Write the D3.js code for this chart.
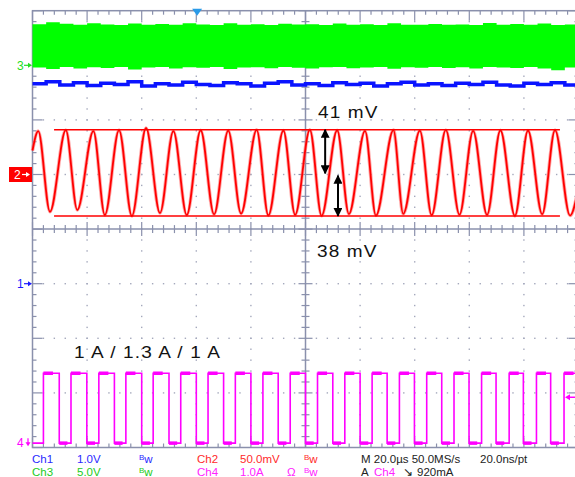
<!DOCTYPE html>
<html>
<head>
<meta charset="utf-8">
<script src="https://cdn.jsdelivr.net/npm/d3@7"></script>
<style>
  body { margin: 0; background: #fff; }
  svg { display: block; font-family: "Liberation Sans", Arial, sans-serif; }
</style>
</head>
<body>
<svg id="scope" width="575" height="477"></svg>
<script>
// ---- data (time in µs) ----
// channel vertical positions (div) and scale per div
const chPos = {ch1: -1, ch2: 1, ch3: 3, ch4: -4};
const chPerDiv = {ch1: 1.0, ch2: 50, ch3: 5.0, ch4: 1.0};

// Ch3 switch node: noisy band, envelope every 5 µs (V)
const greenT  = [0, 5, 10, 15, 20, 25, 30, 35, 40, 45, 50, 55, 60, 65, 70, 75, 80, 85, 90, 95, 100,
                 105, 110, 115, 120, 125, 130, 135, 140, 145, 150, 155, 160, 165, 170, 175, 180, 185, 190, 195, 200];
const greenHi = [3.75, 3.95, 3.8, 3.72, 3.85, 3.74, 3.7, 3.82, 3.72, 3.78, 3.71, 3.84, 3.73, 3.7, 3.86, 3.72, 3.76, 3.7, 3.8, 3.73, 3.76,
                 3.7, 3.83, 3.72, 3.75, 3.7, 3.85, 3.72, 3.71, 3.79, 3.72, 3.74, 3.7, 3.88, 3.72, 3.78, 3.71, 3.82, 3.7, 3.74, 3.72];
const greenLo = [-0.2, -0.35, -0.15, -0.3, -0.18, -0.25, -0.15, -0.38, -0.2, -0.15, -0.3, -0.18, -0.22, -0.15, -0.33, -0.2, -0.18, -0.28, -0.15, -0.22, -0.3,
                 -0.18, -0.15, -0.26, -0.2, -0.15, -0.32, -0.18, -0.22, -0.15, -0.25, -0.18, -0.3, -0.15, -0.2, -0.24, -0.16, -0.3, -0.45, -0.2, -0.25];

// Ch1 output rail (V)
const blueT = greenT;
const blueV = [3.66, 3.7, 3.64, 3.68, 3.63, 3.67, 3.65, 3.7, 3.62, 3.66, 3.64, 3.69, 3.65, 3.63, 3.68, 3.66, 3.62, 3.67, 3.7, 3.64, 3.66,
               3.63, 3.68, 3.65, 3.67, 3.62, 3.66, 3.69, 3.64, 3.66, 3.63, 3.67, 3.65, 3.69, 3.64, 3.62, 3.67, 3.65, 3.68, 3.64, 3.66];

// Ch2 ripple (mV): start, alternating peaks / troughs, end
const ripplePeakT = [2.1, 12.2, 22.3, 31.7, 41.6, 51.6, 61.6, 71.7, 82.1, 91.9, 101.6, 111.6, 121.8, 132.2, 141.9, 151.4, 161.4, 171.4, 181.5, 191.4];
const ripplePeakV = [39.8, 40.7, 39.8, 40.7, 42.6, 39.8, 40.5, 40.2, 40.9, 40.3, 41.0, 40.5, 39.9, 40.6, 40.2, 40.8, 40.0, 40.5, 40.3, 40.7];
const rippleTrT   = [6.4, 16.4, 26.5, 36.4, 46.7, 56.5, 66.5, 76.4, 86.4, 96.2, 105.9, 115.9, 125.8, 135.8, 146.2, 156.4, 166.5, 176.7, 186.7, 196.9];
const rippleTrV   = [-34.1, -32.5, -37.1, -38.0, -35.3, -37.1, -36.5, -35.8, -37.5, -36.9, -37.8, -36.2, -37.6, -36.0, -37.3, -36.8, -37.0, -37.9, -36.4, -37.6];
const rippleStart = [0, 22];
const rippleEnd   = [200, -12];

// Ch4 inductor current (A)
const riseT = [4.0, 14.1, 24.3, 34.2, 44.2, 54.3, 64.3, 74.3, 84.4, 94.4, 104.4, 114.4, 124.4, 134.4, 144.4, 154.4, 164.5, 174.6, 184.6, 194.7];
const fallT = [9.8, 19.9, 30.0, 40.0, 50.0, 60.0, 70.0, 80.0, 90.0, 100.0, 110.0, 120.0, 129.9, 139.9, 149.9, 159.9, 169.8, 179.8, 189.8, 199.8];
const currHigh = 1.36;
const currLow = 0.08;

// cursors / annotations
const cursorMv = [41, -38];
const cursorSpan = [7.9, 193.2];
const arrowsMv = [{t: 107.2, from: 41, to: 1}, {t: 111.9, from: -1, to: -38}];
const triggerPos = 60.3;
const triggerLevel = 0.92;

(() => {
    // ---- scales ----
    const svg = d3.select("svg#scope");
    const pL = 32.5, pR = 578.5, pT = 10.7, pB = 447.5;
    const x = d3.scaleLinear().domain([0, 200]).range([pL, pR]);
    const yDiv = d3.scaleLinear().domain([-4, 4]).range([pB, pT]);
    const chScale = ch => d3.scaleLinear()
        .domain([(-4 - chPos[ch]) * chPerDiv[ch], (4 - chPos[ch]) * chPerDiv[ch]])
        .range([pB, pT]);
    const y1 = chScale("ch1"), y2 = chScale("ch2"), y3 = chScale("ch3"), y4 = chScale("ch4");

    const gridCol = "#8a90ac";

    // ---- graticule ----
    const grid = svg.append("g");
    const minorT = d3.range(0, 200.01, 4);
    const minorD = d3.range(-4, 4.01, 0.2);

    // dots on major lines
    [20, 40, 60, 80, 120, 140, 160, 180].forEach(t => {
        grid.selectAll(null).data(minorD.slice(1, -1)).enter().append("rect")
            .attr("x", x(t) - 0.7).attr("y", d => yDiv(d) - 0.7)
            .attr("width", 1.4).attr("height", 1.4).attr("fill", "#a4a8bc");
    });
    [-3, -2, -1, 1, 2, 3].forEach(dv => {
        grid.selectAll(null).data(minorT.slice(1, -1)).enter().append("rect")
            .attr("x", d => x(d) - 0.7).attr("y", yDiv(dv) - 0.7)
            .attr("width", 1.4).attr("height", 1.4).attr("fill", "#a4a8bc");
    });

    // frame and centre lines
    grid.append("rect").attr("x", pL).attr("y", pT)
        .attr("width", pR - pL).attr("height", pB - pT)
        .attr("fill", "none").attr("stroke", gridCol).attr("stroke-width", 1.5);
    grid.append("line").attr("x1", x(100)).attr("x2", x(100)).attr("y1", pT).attr("y2", pB)
        .attr("stroke", gridCol).attr("stroke-width", 1.5);
    grid.append("line").attr("x1", pL).attr("x2", pR).attr("y1", yDiv(0)).attr("y2", yDiv(0))
        .attr("stroke", gridCol).attr("stroke-width", 1.5);

    const isMajorT = t => Math.abs(t / 20 - Math.round(t / 20)) < 1e-6;
    const isMajorD = d => Math.abs(d - Math.round(d)) < 1e-6;

    // ticks along top/bottom frame and centre horizontal
    minorT.forEach(t => {
        const L = isMajorT(t) ? 10 : 4;
        grid.append("line").attr("x1", x(t)).attr("x2", x(t)).attr("y1", pT).attr("y2", pT + L)
            .attr("stroke", gridCol).attr("stroke-width", 1.2);
        grid.append("line").attr("x1", x(t)).attr("x2", x(t)).attr("y1", pB).attr("y2", pB - L)
            .attr("stroke", gridCol).attr("stroke-width", 1.2);
        const c = isMajorT(t) ? 7 : 4;
        grid.append("line").attr("x1", x(t)).attr("x2", x(t)).attr("y1", yDiv(0) - c).attr("y2", yDiv(0) + c)
            .attr("stroke", gridCol).attr("stroke-width", 1.2);
    });
    // ticks along left/right frame and centre vertical
    minorD.forEach(d => {
        const L = isMajorD(d) ? 10 : 4;
        grid.append("line").attr("x1", pL).attr("x2", pL + L).attr("y1", yDiv(d)).attr("y2", yDiv(d))
            .attr("stroke", gridCol).attr("stroke-width", 1.2);
        grid.append("line").attr("x1", pR).attr("x2", pR - L).attr("y1", yDiv(d)).attr("y2", yDiv(d))
            .attr("stroke", gridCol).attr("stroke-width", 1.2);
        const c = isMajorD(d) ? 7 : 4;
        grid.append("line").attr("x1", x(100) - c).attr("x2", x(100) + c).attr("y1", yDiv(d)).attr("y2", yDiv(d))
            .attr("stroke", gridCol).attr("stroke-width", 1.2);
    });

    // ---- traces ----
    const traces = svg.append("g");

    // Ch3 green band
    const greenData = greenT.map((t, i) => ({t, hi: greenHi[i], lo: greenLo[i]}));
    traces.append("path").datum(greenData)
        .attr("d", d3.area().x(d => x(d.t)).y0(d => y3(d.lo)).y1(d => y3(d.hi)).curve(d3.curveStepAfter))
        .attr("fill", "#00ff00");

    // Ch1 blue rail
    traces.append("path").datum(blueT.map((t, i) => [t, blueV[i]]))
        .attr("d", d3.line().x(d => x(d[0])).y(d => y1(d[1])).curve(d3.curveStepAfter))
        .attr("fill", "none").attr("stroke", "#0a14ff").attr("stroke-width", 3.5);

    // Ch2 ripple
    const ripple = [rippleStart];
    ripplePeakT.forEach((t, i) => {
        ripple.push([t, ripplePeakV[i]]);
        ripple.push([rippleTrT[i], rippleTrV[i]]);
    });
    ripple.push(rippleEnd);
    const rippleLine = d3.line().x(d => x(d[0])).y(d => y2(d[1])).curve(d3.curveMonotoneX);
    traces.append("path").datum(ripple).attr("d", rippleLine)
        .attr("fill", "none").attr("stroke", "#ff7070").attr("stroke-width", 3.6).attr("opacity", 0.6);
    traces.append("path").datum(ripple).attr("d", rippleLine)
        .attr("fill", "none").attr("stroke", "#ff0000").attr("stroke-width", 1.8);

    // Ch4 current pulses
    const pulse = [[0, currLow]];
    riseT.forEach((t, i) => {
        pulse.push([t, currHigh]);
        pulse.push([fallT[i], currLow]);
    });
    pulse.push([200, currLow]);
    traces.append("path").datum(pulse)
        .attr("d", d3.line().x(d => x(d[0])).y(d => y4(d[1])).curve(d3.curveStepAfter))
        .attr("fill", "none").attr("stroke", "#ff00ff").attr("stroke-width", 1.6);
    // thicker noisy tops / bottoms
    traces.selectAll(null).data(riseT).enter().append("line")
        .attr("x1", d => x(d)).attr("x2", d => x(d + 3.5))
        .attr("y1", y4(currHigh)).attr("y2", y4(currHigh))
        .attr("stroke", "#ff00ff").attr("stroke-width", 3.5);
    traces.selectAll(null).data(fallT).enter().append("line")
        .attr("x1", d => x(d)).attr("x2", d => x(Math.min(d + 3, 200)))
        .attr("y1", y4(currLow)).attr("y2", y4(currLow))
        .attr("stroke", "#ff00ff").attr("stroke-width", 3.5);

    // ---- cursors and annotations ----
    traces.selectAll(null).data(cursorMv).enter().append("line")
        .attr("x1", x(cursorSpan[0])).attr("x2", x(cursorSpan[1]))
        .attr("y1", d => y2(d)).attr("y2", d => y2(d))
        .attr("stroke", "#ff0000").attr("stroke-width", 1.5);

    const defs = svg.append("defs");
    defs.append("marker").attr("id", "ah").attr("viewBox", "0 0 10 10")
        .attr("refX", 9).attr("refY", 5).attr("markerWidth", 4.5).attr("markerHeight", 4.5)
        .attr("markerUnits", "strokeWidth").attr("orient", "auto-start-reverse")
        .append("path").attr("d", "M0,0 L10,5 L0,10 Z").attr("fill", "#000");
    traces.selectAll(null).data(arrowsMv).enter().append("line")
        .attr("x1", d => x(d.t)).attr("x2", d => x(d.t))
        .attr("y1", d => y2(d.from)).attr("y2", d => y2(d.to))
        .attr("stroke", "#000").attr("stroke-width", 2)
        .attr("marker-start", "url(#ah)").attr("marker-end", "url(#ah)");

    // text labels on the screen are a bit wider than the font
    const ann = svg.append("g").attr("font-size", 17).attr("fill", "#111").attr("letter-spacing", 1);
    [
        {x: 318, y: 118, t: "41 mV"},
        {x: 317, y: 257, t: "38 mV"},
        {x: 74, y: 358, t: "1 A / 1.3 A / 1 A"}
    ].forEach(d => {
        ann.append("text").attr("transform", `translate(${d.x},${d.y}) scale(1.12,1)`).text(d.t);
    });

    // ---- channel markers ----
    const markers = svg.append("g").attr("font-size", 12);
    function groundMarker(ch, label, color) {
        const yy = yDiv(chPos[ch]);
        markers.append("text").attr("x", 17).attr("y", yy + 4.5).attr("fill", color).text(label);
        markers.append("line").attr("x1", 24).attr("x2", 29).attr("y1", yy).attr("y2", yy)
            .attr("stroke", color).attr("stroke-width", 1.2);
        markers.append("path").attr("d", `M28,${yy - 2.5} L32,${yy} L28,${yy + 2.5} Z`).attr("fill", color);
    }
    groundMarker("ch3", "3", "#22dd22");
    groundMarker("ch1", "1", "#1a1aff");
    {
        const yy = yDiv(chPos.ch2);
        markers.append("rect").attr("x", 9).attr("y", yy - 7.5).attr("width", 23).attr("height", 15).attr("fill", "#ff0000");
        markers.append("text").attr("x", 14).attr("y", yy + 4.5).attr("fill", "#fff").text("2");
        markers.append("line").attr("x1", 22).attr("x2", 27).attr("y1", yy).attr("y2", yy)
            .attr("stroke", "#fff").attr("stroke-width", 1.2);
        markers.append("path").attr("d", `M26,${yy - 2.5} L30,${yy} L26,${yy + 2.5} Z`).attr("fill", "#fff");
    }
    {
        const yy = y4(currLow) - 1;
        markers.append("text").attr("x", 17).attr("y", yy + 4.5).attr("fill", "#ff00ff").text("4");
        markers.append("line").attr("x1", 28).attr("x2", 28).attr("y1", yy - 4).attr("y2", yy + 1)
            .attr("stroke", "#ff00ff").attr("stroke-width", 1.2);
        markers.append("path").attr("d", `M25.5,${yy} L30.5,${yy} L28,${yy + 4} Z`).attr("fill", "#ff00ff");
    }
    // trigger position marker
    svg.append("path")
        .attr("d", `M${x(triggerPos) - 5},${pT - 2} L${x(triggerPos) + 5},${pT - 2} L${x(triggerPos)},${pT + 5} Z`)
        .attr("fill", "#2a9ae8");
    // trigger level arrow (right edge)
    {
        const yy = y4(triggerLevel);
        svg.append("line").attr("x1", 569).attr("x2", 575).attr("y1", yy).attr("y2", yy)
            .attr("stroke", "#ff00ff").attr("stroke-width", 1.5);
        svg.append("path").attr("d", `M565,${yy} L570,${yy - 3} L570,${yy + 3} Z`).attr("fill", "#ff00ff");
    }

    // ---- readout ----
    const info = svg.append("g").attr("font-size", 11.5);
    const row1 = 463, row2 = 476;
    const readout = [
        {x: 32, y: row1, c: "#2a2aff", t: "Ch1"}, {x: 77, y: row1, c: "#2a2aff", t: "1.0V"},
        {x: 197, y: row1, c: "#ff2a2a", t: "Ch2"}, {x: 240, y: row1, c: "#ff2a2a", t: "50.0mV"},
        {x: 361, y: row1, c: "#222", t: "M 20.0µs 50.0MS/s"}, {x: 480, y: row1, c: "#222", t: "20.0ns/pt"},
        {x: 32, y: row2, c: "#22cc22", t: "Ch3"}, {x: 77, y: row2, c: "#22cc22", t: "5.0V"},
        {x: 197, y: row2, c: "#ff22ff", t: "Ch4"}, {x: 240, y: row2, c: "#ff22ff", t: "1.0A"},
        {x: 287, y: row2, c: "#ff22ff", t: "Ω"},
        {x: 361, y: row2, c: "#222", t: "A"}, {x: 374, y: row2, c: "#ff22ff", t: "Ch4"},
        {x: 403, y: row2, c: "#222", t: "↘"}, {x: 417, y: row2, c: "#222", t: "920mA"}
    ];
    info.selectAll(null).data(readout).enter().append("text")
        .attr("x", d => d.x).attr("y", d => d.y).attr("fill", d => d.c).text(d => d.t);
    const bw = [
        {x: 139, y: row1, c: "#2a2aff"}, {x: 304, y: row1, c: "#ff2a2a"},
        {x: 139, y: row2, c: "#22cc22"}, {x: 304, y: row2, c: "#ff22ff"}
    ];
    bw.forEach(d => {
        const t = info.append("text").attr("x", d.x).attr("y", d.y).attr("fill", d.c);
        t.append("tspan").attr("font-size", 8).attr("dy", -3).text("B");
        t.append("tspan").attr("dy", 3).text("w");
    });
})();
</script>
</body>
</html>
